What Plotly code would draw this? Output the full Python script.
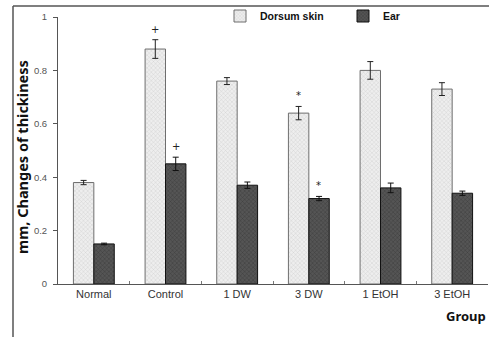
import plotly.graph_objects as go

# Group means and standard errors (mm)
groups = ["Normal", "Control", "1 DW", "3 DW", "1 EtOH", "3 EtOH"]
dorsum = [0.38, 0.88, 0.76, 0.64, 0.80, 0.73]
dorsum_err = [0.008, 0.035, 0.013, 0.025, 0.033, 0.024]
ear = [0.15, 0.45, 0.37, 0.32, 0.36, 0.34]
ear_err = [0.003, 0.025, 0.012, 0.008, 0.018, 0.008]

# significance marks: (group, series, symbol)
marks = [("Control", "dorsum", "+"), ("Control", "ear", "+"),
         ("3 DW", "dorsum", "*"), ("3 DW", "ear", "*")]

W, H = 489, 337
L, R, T, B = 58, 1, 17, 53
pw, ph = W - L - R, H - T - B

fig = go.Figure()
fig.add_trace(go.Bar(
    x=groups, y=dorsum, name="Dorsum skin",
    error_y=dict(type="data", array=dorsum_err, color="#222", thickness=1, width=3),
    marker=dict(color="#e6e6e6",
                line=dict(color="#6e6e6e", width=1),
                pattern=dict(shape="x", size=3, solidity=0.25,
                             fgcolor="#a8a8a8", bgcolor="#eeeeee")),
))
fig.add_trace(go.Bar(
    x=groups, y=ear, name="Ear",
    error_y=dict(type="data", array=ear_err, color="#111", thickness=1, width=3),
    marker=dict(color="#3c3c3c",
                line=dict(color="#111", width=1),
                pattern=dict(shape="x", size=3, solidity=0.3,
                             fgcolor="#222222", bgcolor="#555555")),
))

# significance symbols above the bars
series = {"dorsum": (dorsum, dorsum_err, -0.14), "ear": (ear, ear_err, 0.14)}
for g, s, sym in marks:
    vals, errs, dx = series[s]
    i = groups.index(g)
    fig.add_annotation(x=i + dx, y=vals[i] + errs[i] + 0.04, xref="x", yref="y",
                       text=sym, showarrow=False,
                       font=dict(family="DejaVu Sans", size=10, color="#222"))

fig.update_layout(
    width=W, height=H,
    margin=dict(l=L, r=R, t=T, b=B, autoexpand=False),
    paper_bgcolor="white", plot_bgcolor="white",
    barmode="group", bargap=0.43, bargroupgap=0,
    showlegend=True,
    legend=dict(orientation="h", x=(220 - L) / pw, y=1 + (T - 16) / ph,
                xanchor="left", yanchor="middle",
                entrywidth=78, entrywidthmode="pixels",
                font=dict(family="Liberation Sans", size=10.5,
                          color="#111", weight="bold"),
                bgcolor="rgba(0,0,0,0)", itemwidth=30),
    font=dict(family="Liberation Sans, sans-serif", size=10, color="#444"),
    xaxis=dict(showline=True, linecolor="#555", linewidth=1,
               ticks="inside", tickson="boundaries", ticklen=3, tickcolor="#777",
               tickfont=dict(size=11, color="#333"), showgrid=False, zeroline=False),
    yaxis=dict(range=[0, 1], dtick=0.2, showline=True, linecolor="#555", linewidth=1,
               ticks="outside", ticklen=4, tickcolor="#555", ticklabelstandoff=4,
               tickfont=dict(size=9.5, color="#555"), showgrid=False, zeroline=False),
)

# axis titles
fig.add_annotation(x=(22 - L) / pw, y=(H - B - 157) / ph, xref="paper", yref="paper",
                   xanchor="center", yanchor="middle",
                   text="<b>mm, Changes of thickiness</b>", textangle=-90, showarrow=False,
                   font=dict(family="Noto Sans", size=14.5, color="#111"))
fig.add_annotation(x=(488 - L) / pw, y=-(316 - (H - B)) / ph, xref="paper", yref="paper",
                   xanchor="right", yanchor="middle",
                   text="<b>Group</b>", showarrow=False,
                   font=dict(family="Noto Sans", size=13, color="#111"))

# outer frame lines (top and left)
fx0 = (13 - L) / pw
fy1 = 1 + (T - 6) / ph
fy0 = -B / ph
fig.add_shape(type="line", xref="paper", yref="paper", x0=fx0, x1=(W - L) / pw,
              y0=fy1, y1=fy1, line=dict(color="#555", width=1.5))
fig.add_shape(type="line", xref="paper", yref="paper", x0=fx0, x1=fx0,
              y0=fy0, y1=fy1, line=dict(color="#555", width=1.5))

fig.write_html("out.html")
